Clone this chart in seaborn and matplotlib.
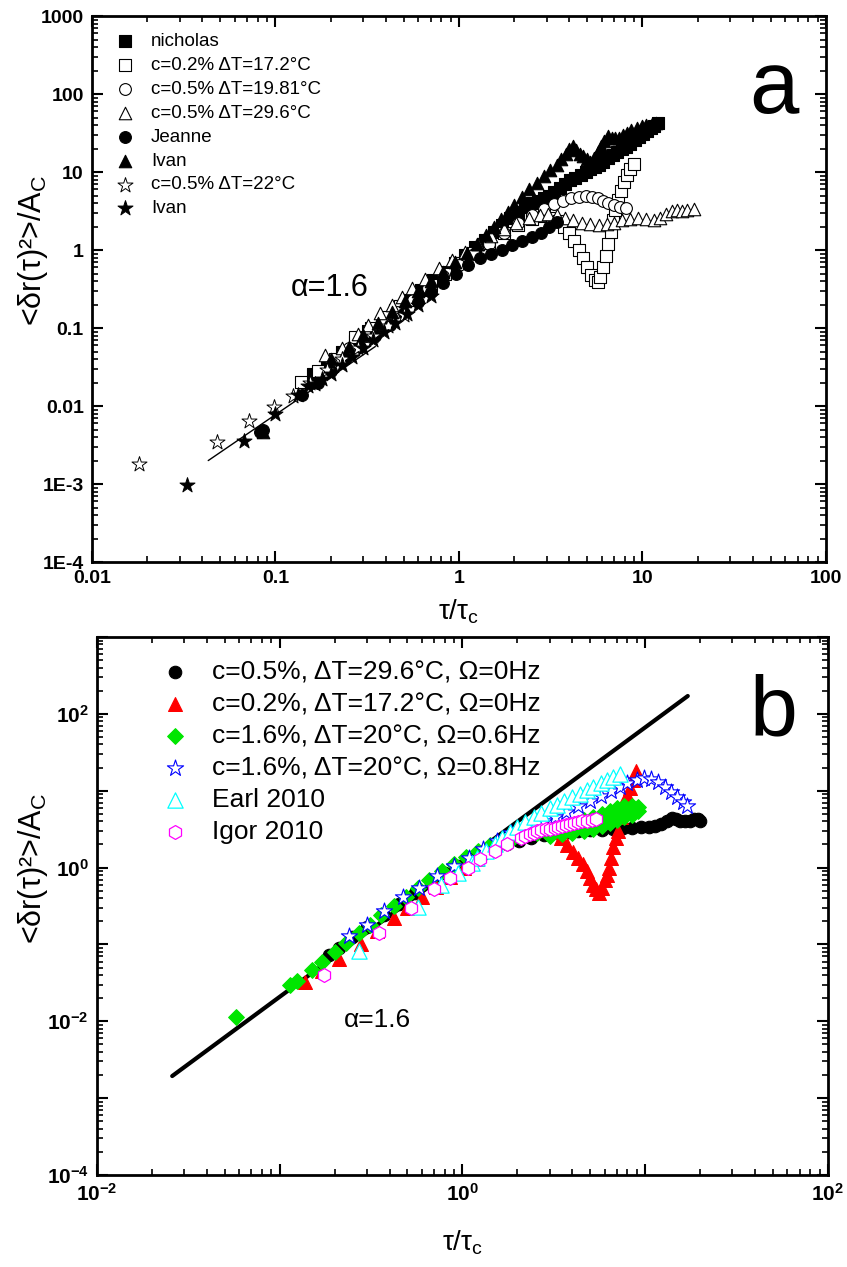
import numpy as np
import seaborn as sns
import matplotlib.pyplot as plt
from matplotlib.ticker import LogLocator, NullFormatter

sns.set_theme(style='ticks')
plt.rcParams['font.family'] = ['Liberation Sans', 'DejaVu Sans']
plt.rcParams['mathtext.fontset'] = 'custom'
plt.rcParams['mathtext.rm'] = 'Liberation Sans'
plt.rcParams['mathtext.bf'] = 'Liberation Sans:bold'
plt.rcParams['mathtext.it'] = 'Liberation Sans:italic'
plt.rcParams['mathtext.sf'] = 'Liberation Sans'
for k in ['text.color', 'axes.labelcolor', 'xtick.color', 'ytick.color', 'axes.edgecolor']:
    plt.rcParams[k] = 'black'

# ---------------- panel a ----------------
a_line_x = [0.043, 0.35]
a_line_y = [0.0020, 0.058]

nich_x = [0.16, 0.19, 0.23, 0.27, 0.32, 0.38, 0.45, 0.53, 0.62, 0.72, 0.83, 0.95, 1.08, 1.22, 1.38, 1.55,
          1.72, 1.9, 2.1, 2.3, 2.5, 2.7, 2.9, 3.1, 3.3, 3.55, 3.8, 4.05, 4.3, 4.6, 4.9, 5.2, 5.5, 5.8,
          6.1, 6.5, 6.9, 7.3, 7.7, 8.1, 8.6, 9.1, 9.6, 10.1, 10.6, 11.1, 11.6, 12.2]
nich_y = [0.026, 0.035, 0.05, 0.068, 0.092, 0.125, 0.17, 0.23, 0.31, 0.41, 0.53, 0.68, 0.86, 1.08, 1.35, 1.7,
          2.1, 2.6, 3.1, 3.6, 4.0, 4.3, 4.6, 5.0, 5.5, 6.2, 7.0, 7.8, 8.5, 9.2, 10.0, 10.8, 11.6, 12.5,
          13.5, 15, 16.5, 18, 19.5, 21, 23, 25.5, 28, 31, 34, 37, 39.5, 42]

sq_x = [0.138, 0.17, 0.21, 0.27, 0.33, 0.4, 0.48, 0.58, 0.7, 0.84, 1.0, 1.2, 1.45, 1.75, 2.1, 2.5, 2.9, 3.2,
        3.49, 3.75, 4.0, 4.25, 4.5, 4.75, 5.0, 5.25, 5.5, 5.7, 5.9, 6.1, 6.3, 6.5, 6.7, 6.9, 7.1, 7.35,
        7.6, 7.9, 8.2, 8.55, 8.95]
sq_y = [0.0204, 0.028, 0.04, 0.076, 0.1, 0.14, 0.19, 0.26, 0.36, 0.5, 0.68, 0.92, 1.25, 1.65, 2.1, 2.5, 2.7,
        2.6, 2.35, 2.0, 1.65, 1.3, 1.0, 0.78, 0.6, 0.48, 0.41, 0.39, 0.45, 0.6, 0.85, 1.2, 1.7, 2.4, 3.3,
        4.4, 5.8, 7.5, 9.3, 11.0, 12.8]

circ_x = [0.2, 0.25, 0.31, 0.38, 0.46, 0.56, 0.68, 0.82, 1.0, 1.2, 1.45, 1.75, 2.1, 2.5, 2.9, 3.3, 3.7, 4.1,
          4.5, 4.9, 5.3, 5.7, 6.1, 6.5, 7.0, 7.5, 8.1]
circ_y = [0.036, 0.055, 0.08, 0.115, 0.16, 0.23, 0.33, 0.46, 0.64, 0.88, 1.2, 1.65, 2.2, 2.8, 3.4, 3.9, 4.3,
          4.6, 4.8, 4.9, 4.8, 4.6, 4.3, 4.0, 3.8, 3.6, 3.5]

tri_x = [0.185, 0.23, 0.28, 0.32, 0.371, 0.43, 0.49, 0.555, 0.65, 0.78, 0.92, 1.08, 1.27, 1.5, 1.75, 2.05,
         2.4, 2.75, 3.05, 3.4, 3.8, 4.2, 4.7, 5.2, 5.8, 6.4, 7.0, 7.7, 8.5, 9.4, 10.4, 11.5, 12.5, 13.5,
         14.5, 15.5, 16.5, 17.5, 19.0]
tri_y = [0.045, 0.055, 0.085, 0.11, 0.158, 0.2, 0.25, 0.33, 0.43, 0.59, 0.75, 0.95, 1.2, 1.5, 1.85, 2.2,
         2.55, 2.8, 2.9, 2.8, 2.6, 2.4, 2.25, 2.15, 2.1, 2.15, 2.25, 2.4, 2.5, 2.55, 2.5, 2.45, 2.6, 2.9,
         3.2, 3.3, 3.2, 3.25, 3.35]

jean_x = [0.082, 0.086, 0.14, 0.17, 0.2, 0.24, 0.29, 0.35, 0.42, 0.5, 0.6, 0.7, 0.82, 0.96, 1.12, 1.3, 1.5,
          1.72, 1.95, 2.2, 2.5, 2.8, 3.1, 3.4]
jean_y = [0.0047, 0.005, 0.014, 0.02, 0.028, 0.04, 0.057, 0.08, 0.11, 0.155, 0.215, 0.29, 0.38, 0.5, 0.65,
          0.8, 0.9, 1.0, 1.15, 1.3, 1.45, 1.65, 1.95, 2.3]

ivtri_x = [0.085, 0.2, 0.25, 0.3, 0.36, 0.43, 0.51, 0.6, 0.7, 0.82, 0.95, 1.1, 1.25, 1.4, 1.55, 1.7, 1.85,
           2.0, 2.2, 2.4, 2.65, 2.9, 3.15, 3.4, 3.6, 3.83, 4.0, 4.17, 4.35, 4.55, 4.77, 5.0, 5.2, 5.45,
           5.7, 5.95, 6.2, 6.5, 6.8, 7.1, 7.45, 7.8, 8.2, 8.7, 9.3, 9.9, 10.5, 11.2, 11.8]
ivtri_y = [0.0046, 0.04, 0.058, 0.082, 0.115, 0.16, 0.22, 0.3, 0.4, 0.53, 0.7, 0.92, 1.2, 1.55, 1.95, 2.5,
           3.1, 3.8, 4.8, 6.0, 7.2, 8.8, 10.5, 12.5, 14.5, 17, 19.5, 21.6, 19, 17, 16, 14.5, 13.5, 15,
           18, 21.5, 25, 29, 27.5, 27, 27.5, 29.5, 32, 34.5, 36.5, 38.5, 40, 41, 42]

star_x = [0.018, 0.048, 0.072, 0.098, 0.124, 0.155, 0.19, 0.23, 0.28, 0.34, 0.41, 0.5]
star_y = [0.0018, 0.0035, 0.0064, 0.0097, 0.0134, 0.02, 0.029, 0.04, 0.056, 0.078, 0.105, 0.145]

ivstar_x = [0.033, 0.067, 0.1, 0.133, 0.15, 0.165, 0.18, 0.2, 0.23, 0.26, 0.3, 0.34, 0.39, 0.45, 0.52, 0.6, 0.7]
ivstar_y = [0.00097, 0.0036, 0.0079, 0.014, 0.018, 0.019, 0.022, 0.026, 0.034, 0.043, 0.055, 0.07, 0.09,
            0.115, 0.15, 0.195, 0.26]

# ---------------- panel b ----------------
b_line_x = [0.0258, 17.1]
b_line_y = [0.00194, 171]

blk_x = [0.187, 0.21, 0.25, 0.3, 0.37, 0.45, 0.55, 0.67, 0.8, 0.95, 1.12, 1.3, 1.5, 1.75, 2.05, 2.36, 2.8,
         3.3, 3.8, 4.3, 5.0, 5.8, 6.7, 7.6, 8.5, 9.5, 10.5, 11.3, 12.2, 13.2, 14.0, 14.8, 15.6, 16.5,
         17.5, 18.5, 19.5, 20.0]
blk_y = [0.072, 0.09, 0.125, 0.17, 0.24, 0.34, 0.47, 0.64, 0.84, 1.05, 1.28, 1.5, 1.75, 2.0, 2.25, 2.45,
         2.65, 2.8, 2.9, 3.0, 3.05, 3.1, 3.2, 3.3, 3.3, 3.35, 3.4, 3.5, 3.7, 4.1, 4.4, 4.3, 4.1, 4.0,
         4.1, 4.3, 4.3, 4.1]

red_x = [0.138, 0.17, 0.21, 0.28, 0.34, 0.42, 0.5, 0.6, 0.72, 0.86, 1.02, 1.2, 1.42, 1.7, 2.0, 2.3, 2.6,
         2.9, 3.2, 3.45, 3.75, 4.05, 4.3, 4.55, 4.8, 5.0, 5.2, 5.4, 5.6, 5.8, 6.0, 6.15, 6.3, 6.5, 6.7,
         6.9, 7.1, 7.4, 7.7, 8.0, 8.3, 8.6, 8.9]
red_y = [0.032, 0.045, 0.065, 0.10, 0.15, 0.22, 0.3, 0.41, 0.56, 0.75, 1.0, 1.3, 1.7, 2.2, 2.8, 3.4, 3.7,
         3.4, 2.9, 2.45, 1.95, 1.6, 1.35, 1.1, 0.9, 0.74, 0.6, 0.52, 0.47, 0.55, 0.68, 0.8, 1.0, 1.35,
         1.85, 2.4, 3.0, 4.5, 6.7, 8.7, 10.9, 14.0, 18.2]

grn_x = [0.058, 0.114, 0.125, 0.15, 0.17, 0.2, 0.23, 0.27, 0.31, 0.36, 0.42, 0.49, 0.57, 0.66, 0.77, 0.9,
         1.05, 1.22, 1.42, 1.65, 1.9, 2.2, 2.55, 2.9, 3.3, 3.8, 4.3, 4.9, 5.5, 6.1, 6.7, 7.4, 8.2, 9.1,
         3.0, 3.5, 4.0, 4.6, 5.2, 5.8, 6.4, 7.0, 7.7, 8.5,
         4.6, 5.2, 5.8, 6.4, 7.0, 7.7, 8.5, 9.1]
grn_y = [0.0113, 0.0297, 0.033, 0.047, 0.06, 0.08, 0.105, 0.14, 0.18, 0.24, 0.32, 0.42, 0.55, 0.7, 0.9,
         1.12, 1.38, 1.65, 1.95, 2.2, 2.45, 2.65, 2.85, 3.0, 3.15, 3.35, 3.55, 3.8, 4.1, 4.4, 4.7, 5.0,
         5.3, 5.5,
         2.6, 2.7, 2.8, 3.0, 3.2, 3.5, 3.8, 4.2, 4.5, 4.8,
         4.2, 4.6, 5.0, 5.5, 6.0, 6.3, 6.4, 6.2]

blu_x = [0.24, 0.3, 0.37, 0.47, 0.58, 0.73, 0.9, 1.08, 1.3, 1.55, 1.85, 2.2, 2.5, 2.8, 3.2, 3.7, 4.3, 5.0,
         5.7, 6.5, 7.3, 8.0, 9.0, 9.9, 10.8, 11.8, 12.8, 13.9, 15.0, 16.0, 17.0]
blu_y = [0.13, 0.18, 0.27, 0.41, 0.55, 0.78, 1.05, 1.35, 1.75, 2.2, 2.8, 3.4, 3.8, 4.1, 4.6, 5.3, 6.3, 7.3,
         8.5, 9.8, 11.3, 12.8, 14.0, 14.7, 14.3, 13.0, 11.3, 9.7, 8.3, 7.2, 6.4]

cya_x = [0.27, 0.57, 0.76, 0.95, 1.13, 1.2, 1.35, 1.5, 1.65, 1.83, 2.0, 2.2, 2.45, 2.7, 3.0, 3.3, 3.6, 4.0,
         4.4, 4.8, 5.2, 5.7, 6.2, 6.7, 7.3]
cya_y = [0.083, 0.31, 0.6, 0.85, 1.16, 1.35, 1.65, 2.0, 2.4, 2.9, 3.4, 3.9, 4.6, 5.2, 5.9, 6.6, 7.3, 8.2,
         9.2, 10.2, 11.3, 12.5, 13.8, 15.2, 16.6]

mag_x = [0.175, 0.35, 0.52, 0.70, 0.86, 1.07, 1.25, 1.5, 1.76, 2.08, 2.2, 2.35, 2.45, 2.57, 2.7, 2.85, 3.0,
         3.2, 3.35, 3.5, 3.7, 3.9, 4.1, 4.3, 4.5, 4.8, 5.1, 5.4]
mag_y = [0.04, 0.143, 0.30, 0.53, 0.74, 1.0, 1.3, 1.66, 2.05, 2.45, 2.6, 2.75, 2.85, 3.0, 3.05, 3.15, 3.2,
         3.3, 3.4, 3.5, 3.6, 3.7, 3.8, 3.9, 4.0, 4.1, 4.2, 4.3]

# tick labels
dec_ticks = [1e-4, 1e-3, 1e-2, 1e-1, 1, 10, 100, 1000]
x_ticks = [0.01, 0.1, 1, 10, 100]
a_xlabels = ['0.01', '0.1', '1', '10', '100']
a_ylabels = ['1E-4', '1E-3', '0.01', '0.1', '1', '10', '100', '1000']
b_xlabels = [r'$\mathbf{10^{-2}}$', '', r'$\mathbf{10^{0}}$', '', r'$\mathbf{10^{2}}$']
b_ylabels = [r'$\mathbf{10^{-4}}$', '', r'$\mathbf{10^{-2}}$', '', r'$\mathbf{10^{0}}$', '',
             r'$\mathbf{10^{2}}$', '']


def scat(ax, x, y, marker, size, face, edge, lw, label):
    sns.scatterplot(x=x, y=y, ax=ax, marker=marker, s=size, color=face, edgecolor=edge,
                    linewidth=lw, label=label, zorder=3)


def style_axes(ax, xlabels, ylabels, tsize):
    ax.set_xlim(0.01, 100)
    ax.set_ylim(1e-4, 1e3)
    ax.set_xticks(x_ticks, xlabels)
    ax.set_yticks(dec_ticks, ylabels)
    ax.xaxis.set_minor_locator(LogLocator(base=10, subs=np.arange(2, 10), numticks=100))
    ax.yaxis.set_minor_locator(LogLocator(base=10, subs=np.arange(2, 10), numticks=100))
    ax.xaxis.set_minor_formatter(NullFormatter())
    ax.yaxis.set_minor_formatter(NullFormatter())
    ax.tick_params(which='major', direction='in', length=8, width=1.5, top=True, right=True,
                   labelsize=tsize, pad=6)
    ax.tick_params(which='minor', direction='in', length=4, width=1.2, top=True, right=True)
    for t in ax.get_xticklabels() + ax.get_yticklabels():
        t.set_fontweight('bold')
    for s in ax.spines.values():
        s.set_linewidth(2)


fig = plt.figure(figsize=(8.47, 12.67), dpi=100)
ax_a = fig.add_axes([0.1086, 0.5564, 0.8666, 0.4309])
ax_b = fig.add_axes([0.1145, 0.0726, 0.8630, 0.4246])
for ax in (ax_a, ax_b):
    ax.set_xscale('log')
    ax.set_yscale('log')

# panel a
sns.lineplot(x=a_line_x, y=a_line_y, ax=ax_a, color='black', linewidth=1.0, sort=False, estimator=None)
scat(ax_a, nich_x, nich_y, 's', 64, 'black', 'black', 0.8, 'nicholas')
scat(ax_a, sq_x, sq_y, 's', 64, 'white', 'black', 0.8, 'c=0.2% ΔT=17.2°C')
scat(ax_a, circ_x, circ_y, 'o', 72, 'white', 'black', 0.8, 'c=0.5% ΔT=19.81°C')
scat(ax_a, tri_x, tri_y, '^', 81, 'white', 'black', 0.8, 'c=0.5% ΔT=29.6°C')
scat(ax_a, jean_x, jean_y, 'o', 72, 'black', 'black', 0.8, 'Jeanne')
scat(ax_a, ivtri_x, ivtri_y, '^', 81, 'black', 'black', 0.8, 'Ivan')
scat(ax_a, star_x, star_y, '*', 130, 'white', 'black', 0.7, 'c=0.5% ΔT=22°C')
scat(ax_a, ivstar_x, ivstar_y, '*', 130, 'black', 'black', 0.7, 'Ivan')
style_axes(ax_a, a_xlabels, a_ylabels, 14)
ax_a.set_xlabel('τ/τ$_\\mathrm{c}$', fontsize=20, labelpad=7)
ax_a.set_ylabel('<δr(τ)²>/A$_\\mathrm{C}$', fontsize=22)
ax_a.yaxis.set_label_coords(-0.057, 0.57)
ax_a.text(0.198, 0.33, 'α=1.6', fontsize=22, ha='center', va='center')
ax_a.legend(loc='upper left', bbox_to_anchor=(0.1364, 0.9739), bbox_transform=fig.transFigure,
            frameon=False, fontsize=13.5, handlelength=1.0, handletextpad=0.9, labelspacing=0.36,
            borderpad=0, borderaxespad=0)

# panel b
sns.lineplot(x=b_line_x, y=b_line_y, ax=ax_b, color='black', linewidth=3.0, sort=False, estimator=None)
scat(ax_b, blk_x, blk_y, 'o', 81, 'black', 'black', 0.8, 'c=0.5%, ΔT=29.6°C, Ω=0Hz')
scat(ax_b, red_x, red_y, '^', 100, '#ff0000', '#ff0000', 0.8, 'c=0.2%, ΔT=17.2°C, Ω=0Hz')
scat(ax_b, grn_x, grn_y, 'D', 64, '#00e600', '#00e600', 0.8, 'c=1.6%, ΔT=20°C, Ω=0.6Hz')
scat(ax_b, blu_x, blu_y, '*', 150, 'white', '#0000ff', 0.8, 'c=1.6%, ΔT=20°C, Ω=0.8Hz')
scat(ax_b, cya_x, cya_y, '^', 121, 'white', '#00ffff', 0.9, 'Earl 2010')
scat(ax_b, mag_x, mag_y, 'h', 100, 'white', '#ff00ff', 0.9, 'Igor 2010')
style_axes(ax_b, b_xlabels, b_ylabels, 15)
ax_b.set_xlabel('τ/τ$_\\mathrm{c}$', fontsize=20, labelpad=17)
ax_b.set_ylabel('<δr(τ)²>/A$_\\mathrm{C}$', fontsize=22)
ax_b.yaxis.set_label_coords(-0.064, 0.57)
ax_b.text(0.342, 0.0103, 'α=1.6', fontsize=19, ha='center', va='center')
ax_b.legend(loc='upper left', bbox_to_anchor=(0.1907, 0.4788), bbox_transform=fig.transFigure,
            frameon=False, fontsize=19, handlelength=1.0, handletextpad=0.91, labelspacing=0.30,
            borderpad=0, borderaxespad=0)

fig.text(0.914, 0.9108, 'a', fontsize=64, ha='center', va='baseline')
fig.text(0.913, 0.4199, 'b', fontsize=62, ha='center', va='baseline')

fig.savefig('out.png', dpi=100, facecolor='white')
